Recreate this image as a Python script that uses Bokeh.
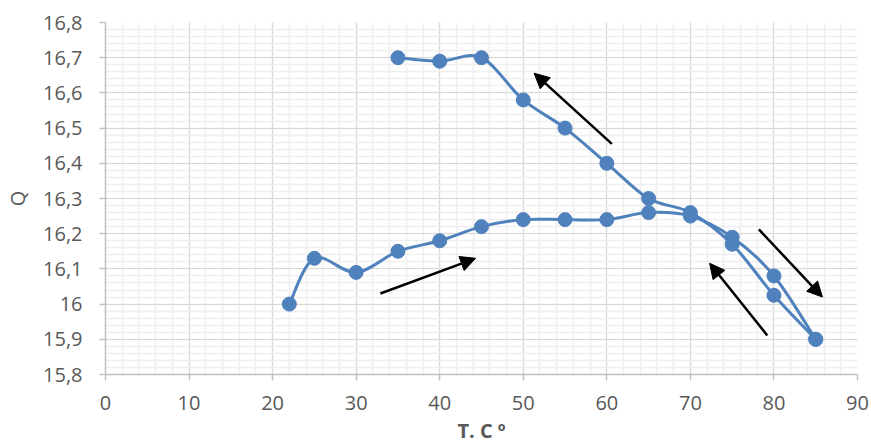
from bokeh.plotting import figure
from bokeh.models import (Range1d, SingleIntervalTicker, CustomJSTickFormatter,
                          Arrow, NormalHead, ColumnDataSource)
from bokeh.embed import file_html
from bokeh.resources import INLINE

# ---------------- data ----------------
heat_T = [22, 25, 30, 35, 40, 45, 50, 55, 60, 65, 70, 75, 80, 85]
heat_Q = [16.00, 16.13, 16.09, 16.15, 16.18, 16.22, 16.24, 16.24, 16.24, 16.26, 16.25, 16.19, 16.08, 15.90]
cool_T = [85, 80, 75, 70, 65, 60, 55, 50, 45, 40, 35]
cool_Q = [15.90, 16.025, 16.17, 16.26, 16.30, 16.40, 16.50, 16.58, 16.70, 16.69, 16.70]

x_ticks = [0, 10, 20, 30, 40, 50, 60, 70, 80, 90]
x_tick_labels = ["0", "10", "20", "30", "40", "50", "60", "70", "80", "90"]
y_ticks = [15.8, 15.9, 16.0, 16.1, 16.2, 16.3, 16.4, 16.5, 16.6, 16.7, 16.8]
y_tick_labels = ["15,8", "15,9", "16", "16,1", "16,2", "16,3", "16,4", "16,5", "16,6", "16,7", "16,8"]

# direction arrows (x_start, y_start, x_end, y_end) in data units
arrow_x0 = [32.9, 60.6, 78.2, 79.2]
arrow_y0 = [16.03, 16.455, 16.212, 15.911]
arrow_x1 = [44.3, 51.3, 85.8, 72.3]
arrow_y1 = [16.13, 16.656, 16.02, 16.116]

x_title = "T. C º"
y_title = "Q"

# ---------------- style ----------------
BLUE = "#4f81bd"
TXT = "#595959"
FONT = "Open Sans"


def smooth_segments(xs, ys):
    """Bezier control points (Catmull-Rom style, like spreadsheet smoothed lines)."""
    n = len(xs)
    x0, y0, x1, y1, cx0, cy0, cx1, cy1 = [], [], [], [], [], [], [], []
    for i in range(n - 1):
        pm = i - 1 if i > 0 else i
        pp = i + 2 if i + 2 < n else i + 1
        x0.append(xs[i]); y0.append(ys[i])
        x1.append(xs[i + 1]); y1.append(ys[i + 1])
        cx0.append(xs[i] + (xs[i + 1] - xs[pm]) / 6.0)
        cy0.append(ys[i] + (ys[i + 1] - ys[pm]) / 6.0)
        cx1.append(xs[i + 1] - (xs[pp] - xs[i]) / 6.0)
        cy1.append(ys[i + 1] - (ys[pp] - ys[i]) / 6.0)
    return dict(x0=x0, y0=y0, x1=x1, y1=y1, cx0=cx0, cy0=cy0, cx1=cx1, cy1=cy1)


FMT_CODE = """
    let best = 0, d = 1e9;
    for (let i = 0; i < tv.length; i++) { const e = Math.abs(tv[i] - tick); if (e < d) { d = e; best = i; } }
    return lbl[best];
"""

p = figure(width=871, height=447, output_backend="svg", toolbar_location=None,
           x_range=Range1d(0, 90), y_range=Range1d(15.8, 16.8),
           min_border_left=105, min_border_right=14, min_border_top=22, min_border_bottom=73)
p.outline_line_color = None
p.background_fill_color = "white"
p.border_fill_color = "white"

p.xaxis.ticker = SingleIntervalTicker(interval=10, num_minor_ticks=5)
p.yaxis.ticker = SingleIntervalTicker(interval=0.1, num_minor_ticks=5)

p.xaxis.formatter = CustomJSTickFormatter(args=dict(tv=x_ticks, lbl=x_tick_labels), code=FMT_CODE)
p.yaxis.formatter = CustomJSTickFormatter(args=dict(tv=y_ticks, lbl=y_tick_labels), code=FMT_CODE)

for ax in (p.xaxis[0], p.yaxis[0]):
    ax.axis_line_color = "#bfbfbf"
    ax.axis_line_width = 1.5
    ax.major_tick_line_color = "#bfbfbf"
    ax.major_tick_line_width = 1.5
    ax.major_tick_out = 6
    ax.major_tick_in = 0
    ax.minor_tick_out = 0
    ax.minor_tick_in = 0
    ax.major_label_text_font = FONT
    ax.major_label_text_font_size = "20px"
    ax.major_label_text_color = TXT
    ax.axis_label_text_font = FONT
    ax.axis_label_text_color = TXT
    ax.axis_label_text_font_size = "20px"

p.xaxis.major_label_standoff = 15
p.xaxis.axis_label = x_title
p.xaxis.axis_label_text_font_style = "bold"
p.xaxis.axis_label_standoff = 4
p.yaxis.major_label_standoff = 17
p.yaxis.axis_label = y_title
p.yaxis.axis_label_text_font_style = "normal"
p.yaxis.axis_label_standoff = 9

p.grid.grid_line_color = "#d9d9d9"
p.grid.grid_line_width = 1.2
p.grid.minor_grid_line_color = "#efefef"
p.grid.minor_grid_line_width = 1.5

for xs, ys in ((heat_T, heat_Q), (cool_T, cool_Q)):
    src = ColumnDataSource(smooth_segments(xs, ys))
    p.bezier(x0="x0", y0="y0", x1="x1", y1="y1", cx0="cx0", cy0="cy0", cx1="cx1", cy1="cy1",
             source=src, line_color=BLUE, line_width=3)
    p.scatter(xs, ys, size=14, fill_color=BLUE, line_color=BLUE)

for xa, ya, xb, yb in zip(arrow_x0, arrow_y0, arrow_x1, arrow_y1):
    p.add_layout(Arrow(x_start=xa, y_start=ya, x_end=xb, y_end=yb,
                       line_color="black", line_width=2.5,
                       end=NormalHead(size=15, fill_color="black", line_color="black", line_width=1)))

open("out.html", "w").write(file_html(p, INLINE))
